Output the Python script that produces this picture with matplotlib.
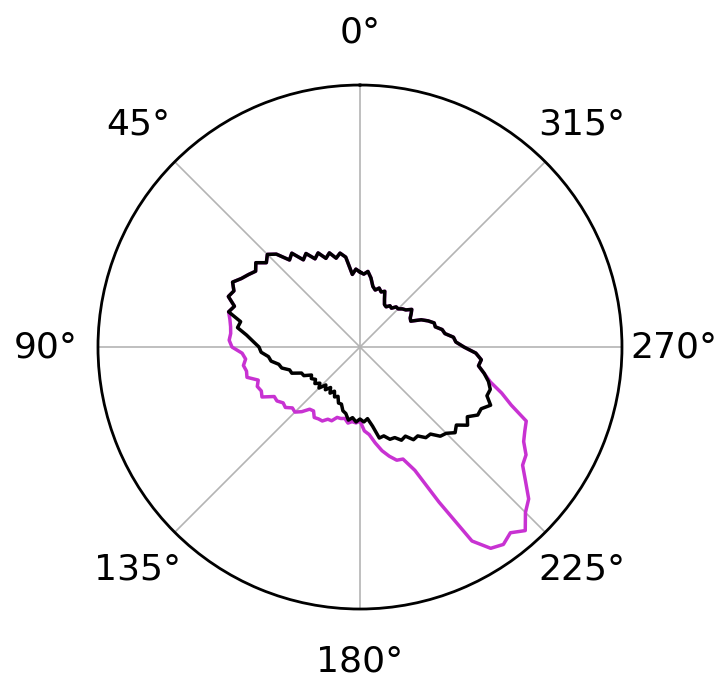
import numpy as np
import matplotlib
matplotlib.use("Agg")
import matplotlib.pyplot as plt

# Sampled directions (degrees) and radii of the two contours
theta_deg = list(range(0, 360, 3))

r_outline = [
    75, 78, 73, 91, 96, 92, 99, 95, 103, 99,
    108, 104, 116, 112, 125, 131, 126, 134, 129, 133,
    137, 143, 138, 141, 132, 136, 122, 124, 114, 107,
    101, 99, 92, 90, 83, 81, 74, 73, 64, 63,
    56, 58, 55, 58, 54, 58, 51, 55, 50, 55,
    51, 56, 54, 60, 60, 66, 68, 74, 71, 75,
    72, 75, 72, 80, 93, 92, 97, 97, 102, 100,
    107, 106, 112, 112, 120, 122, 128, 124, 133, 128,
    136, 136, 143, 136, 137, 133, 127, 120, 122, 116,
    104, 96, 94, 86, 84, 78, 78, 73, 67, 57,
    58, 61, 64, 59, 57, 54, 54, 50, 51, 48,
    49, 54, 61, 59, 62, 59, 62, 70, 76, 73,
]

# Extended contour: departs from the outline between 78 and 255 degrees
ext_start, ext_stop = 78, 255
r_extended_part = [
    133, 131, 130, 131, 128, 118, 115, 118, 116, 117,
    107, 110, 108, 110, 99, 99, 95, 96, 91, 92,
    87, 80, 79, 84, 83, 83, 79, 79, 74, 74,
    73, 77, 75, 76, 74, 84, 88, 97, 106, 113,
    119, 120, 135, 174, 224, 240, 244, 239, 247, 234,
    227, 213, 201, 198, 189, 185, 182, 162, 149, 135,
]

r_max = 262.0
tick_angles = [0, 45, 90, 135, 180, 225, 270, 315]
tick_labels = ["0°", "45°", "90°", "135°", "180°", "225°", "270°", "315°"]

theta = np.deg2rad(np.array(theta_deg + [theta_deg[0]]))
r_black = np.array(r_outline + [r_outline[0]], dtype=float)

r_ext = np.array(r_outline, dtype=float)
i0 = theta_deg.index(ext_start)
i1 = theta_deg.index(ext_stop)
r_ext[i0:i1 + 1] = r_extended_part
r_magenta = np.append(r_ext, r_ext[0])

fig = plt.figure(figsize=(7.23, 6.77), dpi=100)
ax = fig.add_axes([0.1355, 0.1004, 0.7248, 0.774], projection="polar")
ax.set_theta_zero_location("N")
ax.set_theta_direction(1)

ax.plot(theta, r_magenta, color="#c832d2", lw=2.5, zorder=3)
ax.plot(theta, r_black, color="black", lw=2.5, zorder=4)

ax.set_ylim(0, r_max)
ax.set_yticks([])
ax.set_xticks(np.deg2rad(tick_angles))
ax.set_xticklabels(tick_labels, fontsize=26)
ax.tick_params(axis="x", pad=27)
ax.xaxis.grid(True, color="#b4b4b4", lw=1.2)
ax.spines["polar"].set_linewidth(2.0)

fig.savefig("out.png", dpi=100)
